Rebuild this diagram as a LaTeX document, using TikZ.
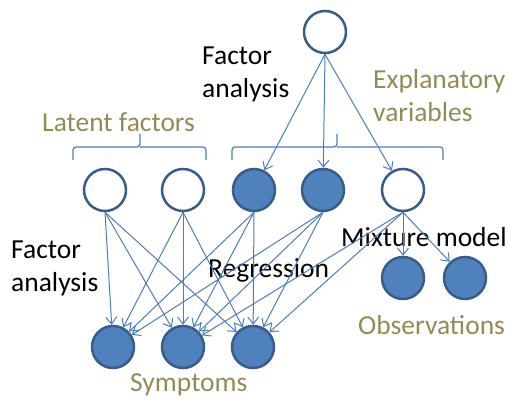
\documentclass[tikz,border=0pt]{standalone}
\usepackage{fontspec}
\setmainfont{Carlito}
\usepackage{xcolor}
\usepackage{tikz}
\usetikzlibrary{positioning,arrows.meta}
\definecolor{nodefill}{HTML}{4F81BD}
\definecolor{nodeedge}{HTML}{385D8A}
\definecolor{arrowblue}{HTML}{4A7EBB}
\definecolor{olive}{HTML}{948A54}
\newcommand{\lblfont}{\fontsize{27.5}{33}\selectfont}

\begin{document}
\begin{tikzpicture}[x=1pt, y=-1pt,
  open/.style={circle, draw=nodeedge, line width=2.5pt, fill=white,
               minimum size=42pt, inner sep=0pt},
  filled/.style={open, fill=nodefill},
  arr/.style={-{Straight Barb[length=7pt, width=11pt]}, draw=arrowblue, line width=1pt},
  lbl/.style={font=\lblfont, align=left, inner sep=0pt, anchor=west},
  grp/.style={lbl, text=olive},
  brace/.style={draw=arrowblue, line width=1.2pt, rounded corners=3pt},
]
\useasboundingbox (0,0) rectangle (511,406);

% nodes
\node[open] (top) at (325,32) {};
\node[open] (lat1) at (105,190) {};
\node[open] (lat2) at (183,190) {};
\node[filled] (exp1) at (254,190) {};
\node[filled] (exp2) at (323,190) {};
\node[open] (mix) at (403,190) {};
\node[filled] (sym1) at (113,347) {};
\node[filled] (sym2) at (183,347) {};
\node[filled] (sym3) at (253,347) {};
\node[filled] (obs1) at (403,278) {};
\node[filled] (obs2) at (465,278) {};

% labels
\node[lbl] (fatop) at (202,74) {Factor\\analysis};
\node[lbl] (faleft) at (11,268) {Factor\\analysis};
\node[lbl] (regr) at (208,270) {Regression};
\node[lbl] (mixlbl) at (341,237) {Mixture model};
\node[grp] (explbl) at (373,96) {Explanatory\\variables};
\node[grp] (latlbl) at (42,122) {Latent factors};
\node[grp] (obslbl) at (358,325) {Observations};
\node[grp] (symlbl) at (130,385) {Symptoms};

% braces
\draw[brace] (73,160) -- (73,147) -- (140,147) -- (140,134);
\draw[brace] (140,147) -- (206,147) -- (206,160);
\draw[brace] (232,160) -- (232,147) -- (337,147) -- (337,134);
\draw[brace] (337,147) -- (443,147) -- (443,160);

% edges
\foreach \t in {exp1,exp2,mix}
  \draw[arr] (top.south) -- (\t);
\foreach \s in {lat1,lat2,exp1,exp2}
  \foreach \t in {sym1,sym2,sym3}
    \draw[arr] (\s.south) -- (\t);
\foreach \t in {sym2,sym3,obs1,obs2}
  \draw[arr] (mix.south) -- (\t);
\end{tikzpicture}
\end{document}
